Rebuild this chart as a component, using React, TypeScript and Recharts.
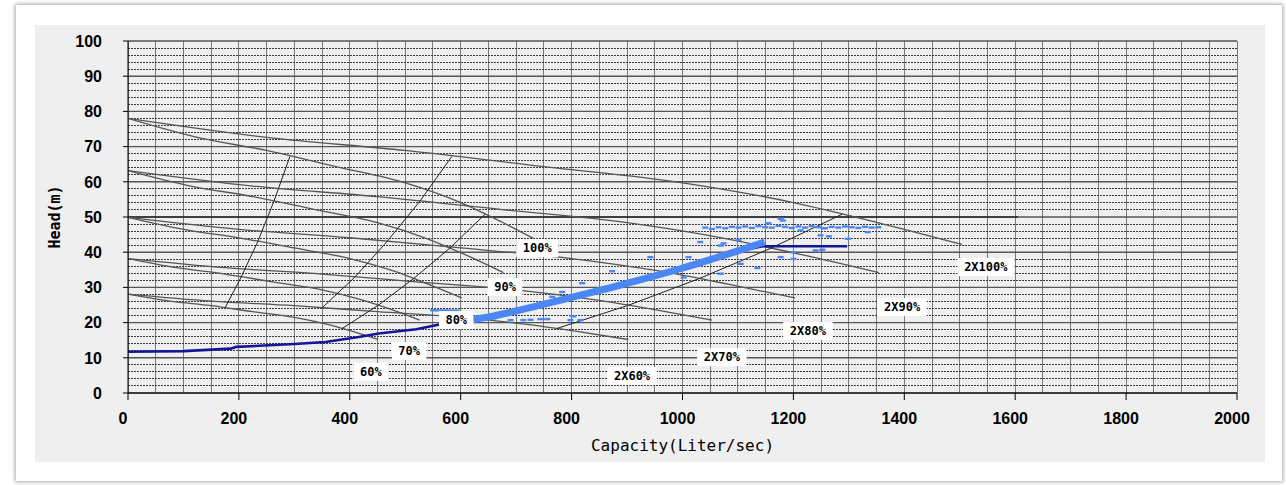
import { ComposedChart, Line, Scatter, XAxis, YAxis, CartesianGrid } from "recharts";

// axis ticks
const xTicks = [0, 200, 400, 600, 800, 1000, 1200, 1400, 1600, 1800, 2000];
const yTicks = [0, 10, 20, 30, 40, 50, 60, 70, 80, 90, 100];

// single pump curves (capacity l/s, head m)
const q100 = [0, 125, 250, 375, 500, 600, 675, 752];
const h100 = [78, 72.6, 68.9, 64.3, 59.7, 54.1, 48.5, 42.2];
const q90 = [0, 113, 225, 338, 450, 540, 608, 677];
const h90 = [63.2, 58.8, 55.8, 52.1, 48.4, 43.8, 39.3, 34.2];
const q80 = [0, 100, 200, 300, 400, 480, 540, 602];
const h80 = [49.9, 46.5, 44.1, 41.2, 38.2, 34.6, 31.0, 27.0];
const q70 = [0, 88, 175, 263, 350, 420, 473, 526];
const h70 = [38.2, 35.6, 33.8, 31.5, 29.3, 26.5, 23.8, 20.7];
const q60 = [0, 75, 150, 225, 300, 360, 405, 451];
const h60 = [28.1, 26.1, 24.8, 23.1, 21.5, 19.5, 17.5, 15.2];

// two pumps in parallel
const q2x100 = [0, 250, 500, 750, 1000, 1200, 1350, 1504];
const q2x90 = [0, 225, 450, 675, 900, 1080, 1215, 1354];
const q2x80 = [0, 200, 400, 600, 800, 960, 1080, 1203];
const q2x70 = [0, 175, 350, 525, 700, 840, 945, 1053];
const q2x60 = [0, 150, 300, 450, 600, 720, 810, 902];

// lines across speeds
const qIsoA = [292, 263, 234, 204, 175];
const hIsoA = [67.2, 54.4, 43.0, 32.9, 24.2];
const qIsoB = [584, 526, 467, 409, 350];
const qIsoC = [644, 580, 515, 451, 386];
const hIsoC = [50.8, 41.1, 32.5, 24.9, 18.3];
const qIsoD = [1288, 1159, 1030, 902, 773];

const qLimit = [0, 1605];
const hLimit = [50, 50];

// system / measured
const qSystem = [0, 100, 185, 195, 300, 356, 416, 452, 520, 557, 623, 700, 800, 900, 1000, 1100, 1145, 1297];
const hSystem = [11.7, 11.9, 12.6, 13.1, 13.9, 14.5, 15.9, 16.9, 18.1, 19.3, 20.9, 23.3, 27.0, 31.0, 35.4, 40.3, 41.7, 41.7];
const qBand = [623, 650, 700, 760, 816, 870, 930, 996, 1050, 1100, 1148];
const hBand = [20.9, 21.6, 23.3, 25.6, 27.8, 29.9, 32.4, 35.3, 37.9, 40.4, 42.9];
const qShort = [545, 598];
const hShort = [23.5, 23.4];
const qDots = [
  1041, 1053, 1065, 1077, 1089, 1101, 1113, 1125, 1137, 1149, 1161, 1173, 1185, 1197, 1209, 1221, 1233, 1245,
  1257, 1269, 1281, 1293, 1305, 1317, 1329, 1341, 1353,
  1177, 1181, 1155, 1334, 1249, 1264, 1298, 1101, 1032, 1074, 1069, 1240, 1252, 1200, 1177, 1011, 942, 1105,
  1135, 1200, 1069, 1002, 873, 819, 783, 765, 744, 756, 726, 713, 798, 803, 816, 690, 659, 1213,
];
const hDots = [
  47.0, 46.6, 47.1, 46.8, 47.2, 47.0, 47.3, 46.9, 47.4, 47.1, 47.0, 47.5, 47.2, 46.9, 47.3, 47.0, 47.4, 47.1,
  46.8, 47.2, 47.0, 47.3, 47.1, 46.9, 47.2, 47.0, 47.1,
  49.5, 49.0, 48.2, 45.7, 44.8, 44.5, 43.8, 43.5, 42.9, 42.5, 41.9, 40.5, 40.7, 40.0, 38.6, 38.6, 38.6, 36.7,
  35.5, 38.1, 33.9, 32.8, 34.6, 31.2, 28.7, 27.3, 21.0, 21.0, 20.8, 20.7, 20.7, 21.8, 20.7, 20.7, 21.2, 46.2,
];

// curve labels
const labelText = ["100%", "90%", "80%", "70%", "60%", "2X60%", "2X70%", "2X80%", "2X90%", "2X100%"];
const labelQ = [738, 680, 592, 507, 438, 909, 1071, 1226, 1396, 1547];
const labelH = [41.2, 30.1, 20.7, 11.9, 6.0, 4.8, 10.2, 17.6, 24.4, 35.8];

const zip = (q: number[], h: number[]) => q.map((x, i) => ({ q: x, h: h[i] }));

const pumpCurves = [
  zip(q100, h100), zip(q90, h90), zip(q80, h80), zip(q70, h70), zip(q60, h60),
  zip(q2x100, h100), zip(q2x90, h90), zip(q2x80, h80), zip(q2x70, h70), zip(q2x60, h60),
];
const isoLines = [zip(qIsoA, hIsoA), zip(qIsoB, hIsoA), zip(qIsoC, hIsoC), zip(qIsoD, hIsoC)];
const labels = labelText.map((t, i) => ({ t, q: labelQ[i], h: labelH[i] }));

const vGrid = Array.from({ length: 41 }, (_, i) => i * 50);
const minorY = Array.from({ length: 50 }, (_, i) => i * 2).filter((v) => v % 10 !== 0);

const LIGHT = "#4a86f4";
const NAVY = "#15159a";

function LabelBox(props: any) {
  const { cx, cy, payload } = props;
  const w = payload.t.length * 7.5 + 12;
  return (
    <g>
      <rect x={cx - w / 2} y={cy - 9} width={w} height={18} fill="#fff" />
      <text x={cx} y={cy} dy="0.36em" textAnchor="middle" fontFamily="DejaVu Sans Mono" fontWeight="bold" fontSize={12} fill="#000">
        {payload.t}
      </text>
    </g>
  );
}

function Dash(props: any) {
  const { cx, cy } = props;
  return <rect x={cx - 3} y={cy - 1.2} width={6} height={2.4} fill={LIGHT} />;
}

function XTick(props: any) {
  const { x, y, payload } = props;
  return (
    <text x={x - 5} y={y} dy="0.71em" textAnchor="middle" fontFamily="Liberation Sans" fontWeight="bold" fontSize={16} fill="#000">
      {payload.value}
    </text>
  );
}

function YTick(props: any) {
  const { x, y, payload } = props;
  return (
    <text x={x} y={y} dy="0.36em" textAnchor="end" fontFamily="Liberation Sans" fontWeight="bold" fontSize={16} fill="#000">
      {payload.value}
    </text>
  );
}

function YLabel(props: any) {
  const { viewBox } = props;
  const cx = viewBox.x - 13;
  const cy = viewBox.y + viewBox.height / 2;
  return (
    <text x={cx} y={cy} dy="0.36em" textAnchor="middle" transform={`rotate(-90, ${cx}, ${cy})`} fontFamily="DejaVu Sans Mono" fontWeight="bold" fontSize={15} fill="#000">
      Head(m)
    </text>
  );
}

export default function App() {
  return (
    <div style={{ position: "fixed", left: 0, top: 0, width: 1286, height: 485, background: "#fff", overflow: "hidden" }}>
      <div style={{ position: "absolute", left: 16, top: 5, width: 1266, height: 476, background: "#fff", boxShadow: "0 0 4px 1px rgba(0,0,0,0.35)" }} />
      <div style={{ position: "absolute", left: 35, top: 25, width: 1230, height: 437, background: "#efefef" }} />
      <div style={{ position: "absolute", left: 0, top: 0 }}>
        <ComposedChart width={1286} height={485} margin={{ top: 41, right: 49, bottom: 33, left: 68 }}>
          <CartesianGrid verticalValues={vGrid} horizontal={false} stroke="#7a7a7a" strokeWidth={1} shapeRendering="crispEdges" />
          <CartesianGrid horizontalValues={minorY} vertical={false} stroke="#3a3a3a" strokeDasharray="1.5 1.5" shapeRendering="crispEdges" />
          <CartesianGrid horizontalValues={yTicks} vertical={false} stroke="#555" strokeWidth={1.4} />
          <XAxis
            dataKey="q"
            type="number"
            domain={[0, 2000]}
            ticks={xTicks}
            interval={0}
            allowDataOverflow
            height={59}
            tickSize={7}
            tickMargin={13}
            tick={<XTick />}
            stroke="#000"
            label={{ value: "Capacity(Liter/sec)", position: "insideBottom", offset: 1, fontFamily: "DejaVu Sans Mono", fontSize: 16, fill: "#000" }}
          />
          <YAxis
            dataKey="h"
            type="number"
            domain={[0, 100]}
            ticks={yTicks}
            interval={0}
            allowDataOverflow
            width={60}
            tickSize={5}
            tickMargin={21}
            tick={<YTick />}
            stroke="#000"
            label={<YLabel />}
          />
          <Line data={zip(qLimit, hLimit)} dataKey="h" stroke="#2a2a2a" strokeWidth={1.6} dot={false} activeDot={false} isAnimationActive={false} />
          {pumpCurves.map((d, i) => (
            <Line key={"p" + i} data={d} dataKey="h" type="monotone" stroke="#555" strokeWidth={1.3} dot={false} activeDot={false} isAnimationActive={false} />
          ))}
          {isoLines.map((d, i) => (
            <Line key={"i" + i} data={d} dataKey="h" stroke="#222" strokeWidth={1} dot={false} activeDot={false} isAnimationActive={false} />
          ))}
          <Line data={zip(qSystem, hSystem)} dataKey="h" stroke={NAVY} strokeWidth={2.6} dot={false} activeDot={false} isAnimationActive={false} />
          <Scatter data={zip(qDots, hDots)} fill={LIGHT} shape={<Dash />} isAnimationActive={false} />
          <Line data={zip(qShort, hShort)} dataKey="h" stroke={LIGHT} strokeWidth={2.4} dot={false} activeDot={false} isAnimationActive={false} />
          <Line data={zip(qBand, hBand)} dataKey="h" type="monotone" stroke={LIGHT} strokeWidth={7} dot={false} activeDot={false} isAnimationActive={false} />
          <Scatter data={labels} fill="#fff" shape={<LabelBox />} isAnimationActive={false} />
        </ComposedChart>
      </div>
    </div>
  );
}
